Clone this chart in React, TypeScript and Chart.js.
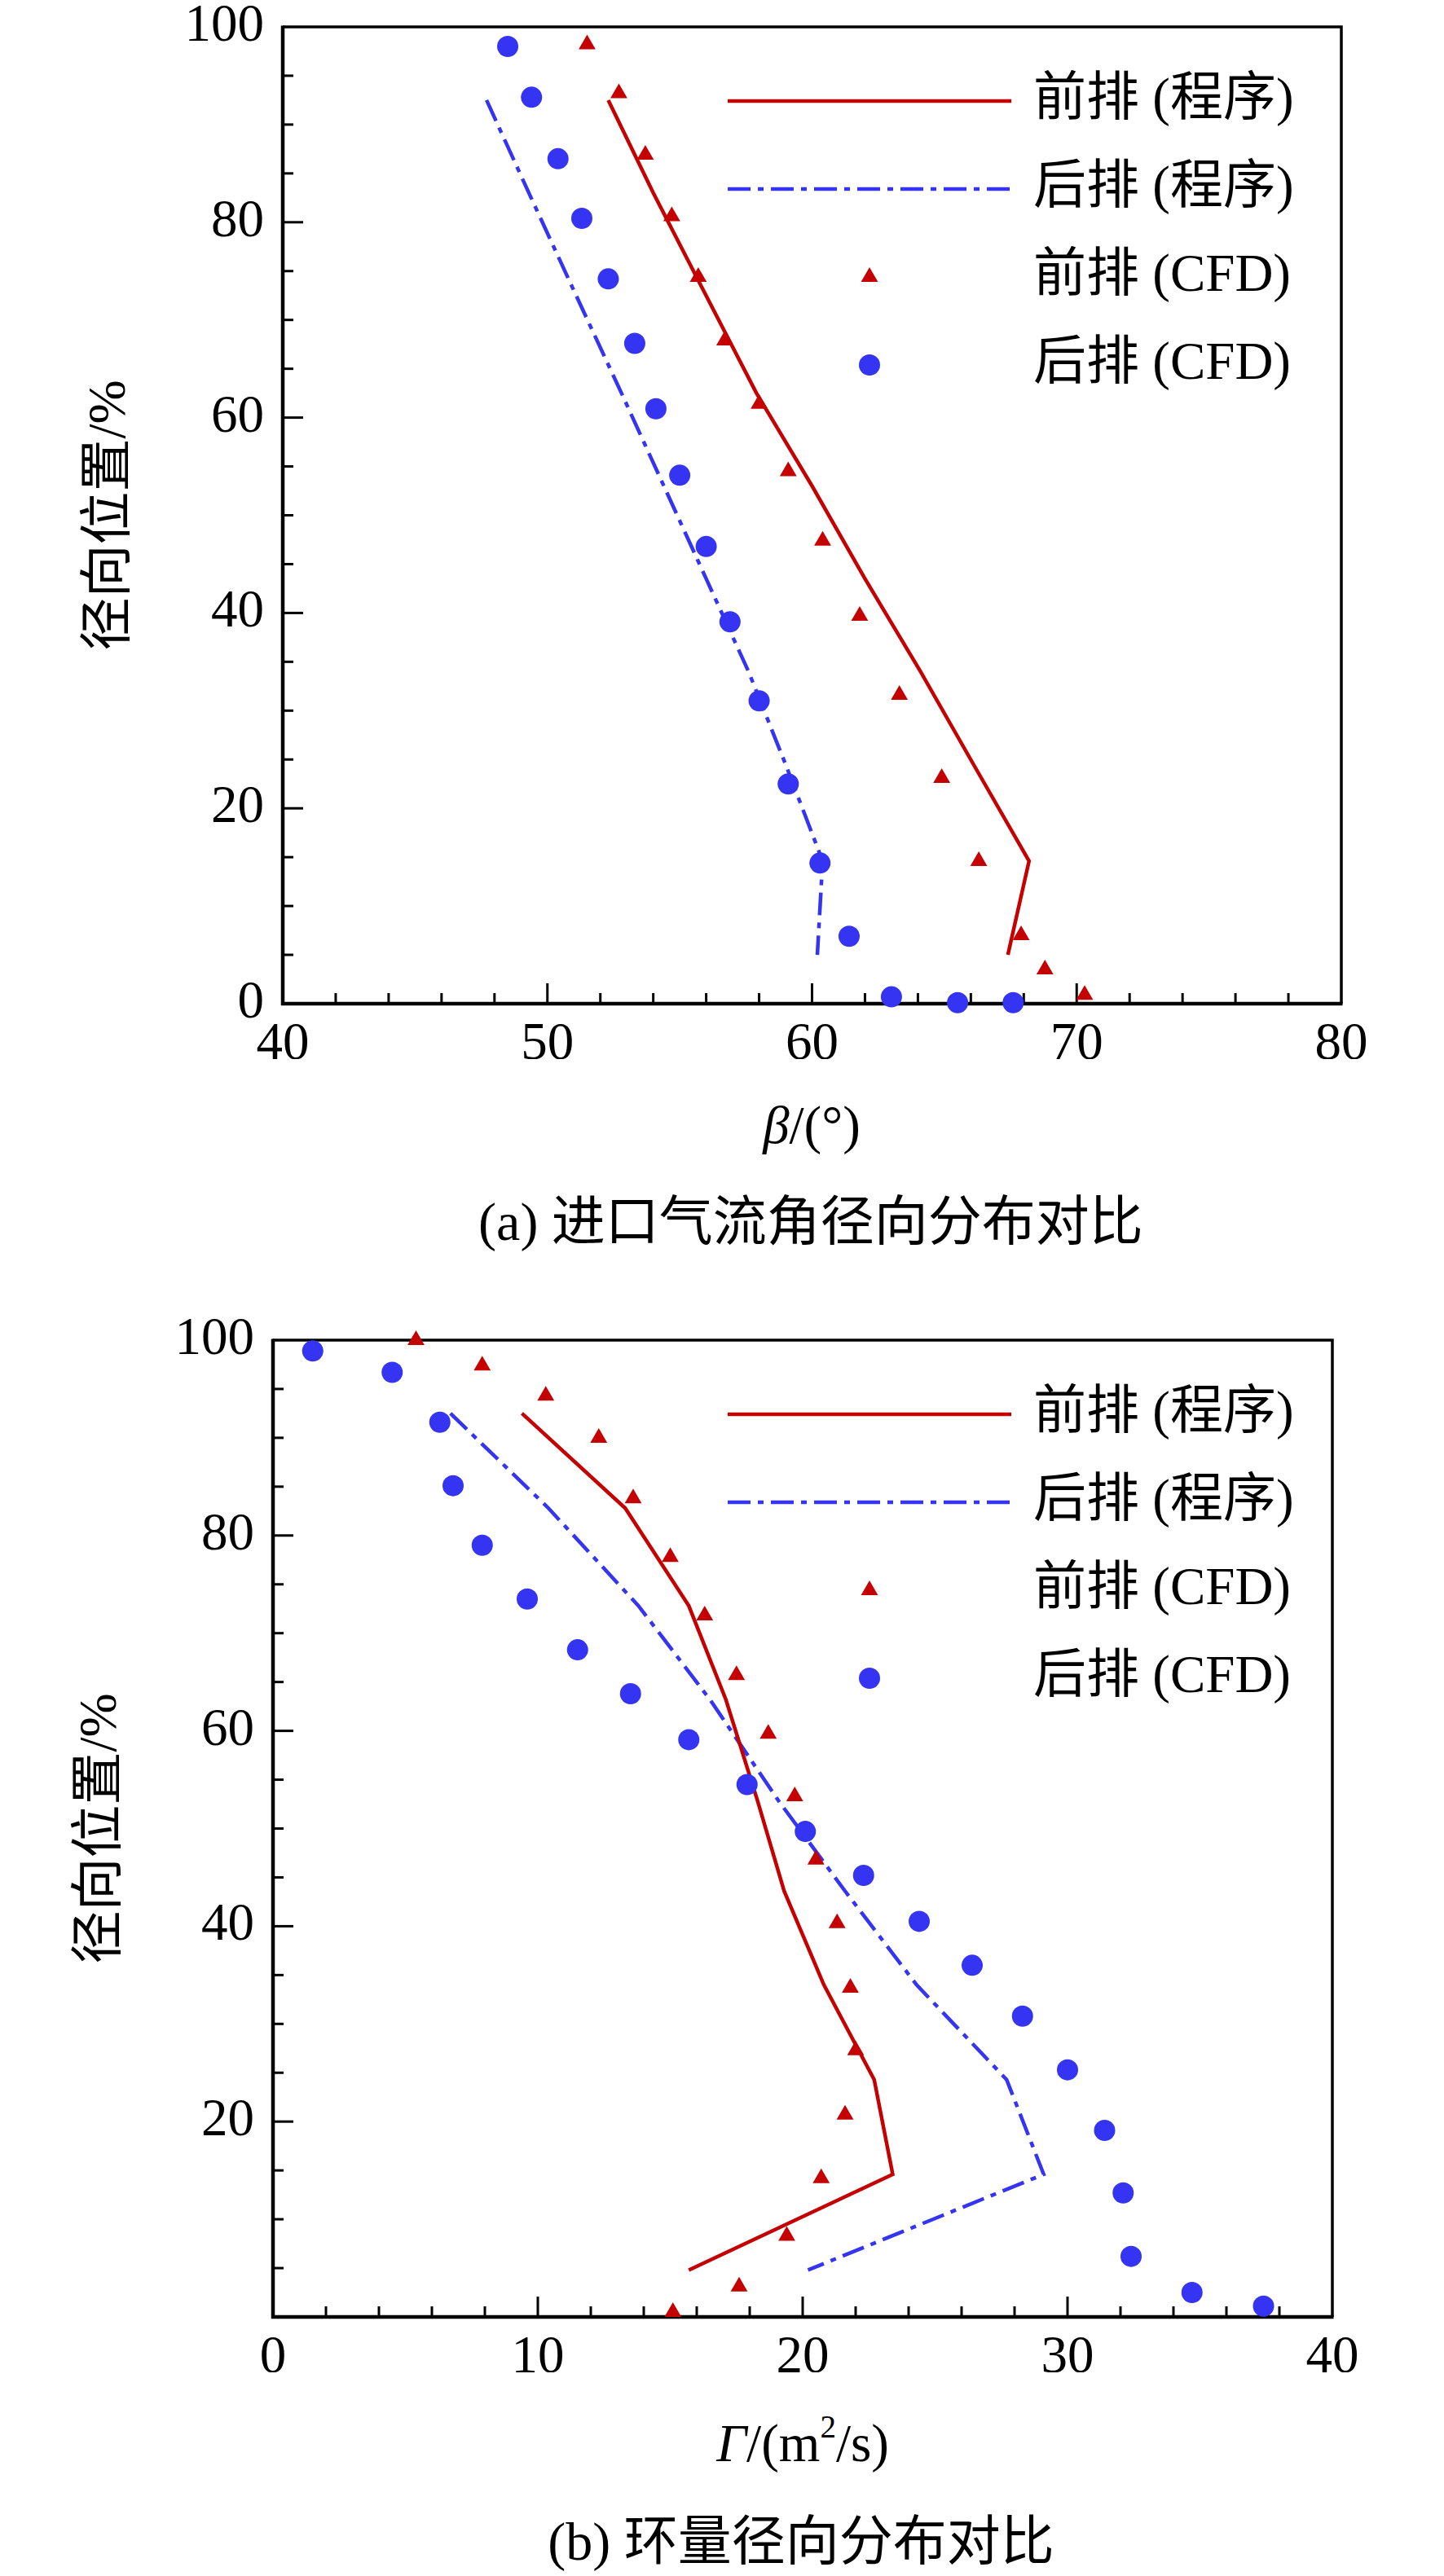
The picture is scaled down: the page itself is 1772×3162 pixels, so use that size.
import { useEffect, useRef } from 'react';
import Chart from 'chart.js/auto';

const RED = '#C40000';
const BLUE = '#3434F2';
const SERIF = '"Liberation Serif", "Times New Roman", serif, "Noto Sans CJK SC"';
const PAGE_W = 1772;
const PAGE_H = 3162;
const CANVAS_H = 1300;

// (a) inlet flow angle, x = beta (deg), y = radial position (%)
const progSpanA = [92.5, 83.0, 73.0, 62.5, 53.0, 43.5, 34.0, 24.5, 14.6, 5.0];
const frontProgA = [52.3, 54.0, 55.9, 57.9, 60.0, 62.0, 64.1, 66.1, 68.2, 67.4];
const rearProgA = [47.7, 49.3, 51.0, 52.8, 54.4, 56.0, 57.6, 59.0, 60.4, 60.2];
const frontCfdSpanA = [98.2, 93.2, 86.9, 80.6, 74.4, 67.9, 61.4, 54.5, 47.4, 39.7, 31.6, 23.1, 14.6, 7.0, 3.5, 0.9];
const frontCfdA = [51.5, 52.7, 53.7, 54.7, 55.7, 56.7, 58.0, 59.1, 60.4, 61.8, 63.3, 64.9, 66.3, 67.9, 68.8, 70.3];
const rearCfdSpanA = [98.0, 92.8, 86.5, 80.4, 74.2, 67.6, 60.9, 54.1, 46.8, 39.1, 31.0, 22.5, 14.4, 6.9, 0.7, 0.1, 0.1];
const rearCfdA = [48.5, 49.4, 50.4, 51.3, 52.3, 53.3, 54.1, 55.0, 56.0, 56.9, 58.0, 59.1, 60.3, 61.4, 63.0, 65.5, 67.6];

// (b) circulation, x = Gamma (m2/s), y = radial position (%)
const progSpanB = [92.5, 82.8, 72.8, 63.2, 52.8, 43.6, 34.0, 24.3, 14.6, 4.8];
const frontProgB = [9.4, 13.3, 15.7, 17.1, 18.3, 19.3, 20.8, 22.7, 23.4, 15.7];
const rearProgB = [6.7, 10.4, 13.8, 16.5, 19.1, 21.6, 24.3, 27.7, 29.1, 20.2];
const frontCfdSpanB = [100.0, 97.4, 94.3, 90.0, 83.8, 77.8, 71.8, 65.7, 59.7, 53.3, 46.8, 40.3, 33.7, 27.3, 20.7, 14.2, 8.3, 3.1, 0.5];
const frontCfdB = [5.4, 7.9, 10.3, 12.3, 13.6, 15.0, 16.3, 17.5, 18.7, 19.7, 20.5, 21.3, 21.8, 22.0, 21.6, 20.7, 19.4, 17.6, 15.1];
const rearCfdSpanB = [98.9, 96.7, 91.6, 85.1, 79.0, 73.5, 68.3, 63.8, 59.1, 54.5, 49.7, 45.2, 40.5, 36.0, 30.8, 25.3, 19.1, 12.7, 6.2, 2.5, 1.1];
const rearCfdB = [1.5, 4.5, 6.3, 6.8, 7.9, 9.6, 11.5, 13.5, 15.7, 17.9, 20.1, 22.3, 24.4, 26.4, 28.3, 30.0, 31.4, 32.1, 32.4, 34.7, 37.4];

const legendLabels = ['前排 (程序)', '后排 (程序)', '前排 (CFD)', '后排 (CFD)'];
const yTitle = '径向位置/%';

const DASH_DOT = [28, 9, 7, 9];
const LINE_W = 4.5;

const pairs = (xs: number[], ys: number[]) => xs.map((x, i) => ({ x, y: ys[i] }));

// inward ticks + box frame, drawn under the datasets
const framePlugin = {
  id: 'frameTicks',
  beforeDatasetsDraw(chart: any, _args: any, opts: any) {
    const { ctx, chartArea: area, scales } = chart;
    const xs = scales.x;
    const ys = scales.y;
    ctx.save();
    ctx.strokeStyle = '#000';
    ctx.lineWidth = 3;
    const nX = Math.round((xs.max - xs.min) / opts.xMinor);
    for (let i = 1; i < nX; i++) {
      const v = xs.min + i * opts.xMinor;
      const major = Math.abs(v / opts.xMajor - Math.round(v / opts.xMajor)) < 1e-6;
      const px = xs.getPixelForValue(v);
      ctx.beginPath();
      ctx.moveTo(px, area.bottom);
      ctx.lineTo(px, area.bottom - (major ? 25 : 13));
      ctx.stroke();
    }
    const nY = Math.round((ys.max - ys.min) / opts.yMinor);
    for (let i = 1; i < nY; i++) {
      const v = ys.min + i * opts.yMinor;
      const major = Math.abs(v / opts.yMajor - Math.round(v / opts.yMajor)) < 1e-6;
      const py = ys.getPixelForValue(v);
      ctx.beginPath();
      ctx.moveTo(area.left, py);
      ctx.lineTo(area.left + (major ? 25 : 13), py);
      ctx.stroke();
    }
    ctx.lineWidth = 3.5;
    ctx.beginPath();
    ctx.moveTo(area.left, area.top);
    ctx.lineTo(area.right, area.top);
    ctx.lineTo(area.right, area.bottom);
    ctx.stroke();
    ctx.lineWidth = 4.5;
    ctx.beginPath();
    ctx.moveTo(area.left, area.top - 1.5);
    ctx.lineTo(area.left, area.bottom);
    ctx.lineTo(area.right + 1.5, area.bottom);
    ctx.stroke();
    ctx.restore();
  },
};

// legend inside the plot, top right
const legendPlugin = {
  id: 'insetLegend',
  afterDraw(chart: any, _args: any, opts: any) {
    const { ctx, chartArea: area } = chart;
    ctx.save();
    ctx.font = `${opts.fontSize}px ${SERIF}`;
    ctx.textBaseline = 'middle';
    opts.items.forEach((item: any, i: number) => {
      const y = area.top + opts.firstRow + i * opts.rowGap;
      if (item.kind === 'line') {
        ctx.strokeStyle = item.color;
        ctx.lineWidth = LINE_W;
        ctx.setLineDash(item.dash || []);
        ctx.beginPath();
        ctx.moveTo(opts.lineStart, y);
        ctx.lineTo(opts.lineEnd, y);
        ctx.stroke();
        ctx.setLineDash([]);
      } else if (item.kind === 'triangle') {
        const r = item.radius;
        ctx.fillStyle = item.color;
        ctx.beginPath();
        ctx.moveTo(opts.markerX, y - r);
        ctx.lineTo(opts.markerX + r * 0.866, y + r * 0.5);
        ctx.lineTo(opts.markerX - r * 0.866, y + r * 0.5);
        ctx.closePath();
        ctx.fill();
      } else {
        ctx.fillStyle = item.color;
        ctx.beginPath();
        ctx.arc(opts.markerX, y, item.radius, 0, Math.PI * 2);
        ctx.fill();
      }
      ctx.fillStyle = '#000';
      ctx.fillText(item.label, opts.textX, y);
    });
    ctx.restore();
  },
};

interface PanelProps {
  top: number;
  plotLeft: number;
  plotRight: number;
  xMin: number;
  xMax: number;
  yTitleCenter: number;
  showYZero: boolean;
  progSpan: number[];
  frontProg: number[];
  rearProg: number[];
  frontCfdSpan: number[];
  frontCfd: number[];
  rearCfdSpan: number[];
  rearCfd: number[];
}

const ProfilePanel = (p: PanelProps) => {
  const canvasRef = useRef<HTMLCanvasElement>(null);

  useEffect(() => {
    const canvas = canvasRef.current;
    if (!canvas) return;
    const tickFont = { family: SERIF, size: 65 };
    const chart = new Chart(canvas, {
      type: 'scatter',
      data: {
        datasets: [
          {
            label: legendLabels[2],
            data: pairs(p.frontCfd, p.frontCfdSpan),
            showLine: false,
            pointStyle: 'triangle',
            pointRadius: 12,
            pointBackgroundColor: RED,
            pointBorderWidth: 0,
            clip: false,
          },
          {
            label: legendLabels[3],
            data: pairs(p.rearCfd, p.rearCfdSpan),
            showLine: false,
            pointStyle: 'circle',
            pointRadius: 13,
            pointBackgroundColor: BLUE,
            pointBorderWidth: 0,
            clip: false,
          },
          {
            label: legendLabels[0],
            data: pairs(p.frontProg, p.progSpan),
            showLine: true,
            pointRadius: 0,
            borderColor: RED,
            borderWidth: LINE_W,
            tension: 0,
          },
          {
            label: legendLabels[1],
            data: pairs(p.rearProg, p.progSpan),
            showLine: true,
            pointRadius: 0,
            borderColor: BLUE,
            borderWidth: LINE_W,
            borderDash: DASH_DOT,
            tension: 0,
          },
        ] as any,
      },
      options: {
        animation: false,
        responsive: false,
        events: [],
        layout: { padding: { left: 0, top: 33, right: PAGE_W - p.plotRight, bottom: 0 } },
        scales: {
          x: {
            type: 'linear',
            min: p.xMin,
            max: p.xMax,
            grid: { display: false, drawTicks: false },
            border: { display: false },
            ticks: { stepSize: 10, font: tickFont, color: '#000', padding: 12, maxRotation: 0, autoSkip: false },
            afterFit: (scale: any) => {
              scale.height = CANVAS_H - 1232;
              scale.paddingLeft = 0;
              scale.paddingRight = 0;
            },
          },
          y: {
            type: 'linear',
            min: 0,
            max: 100,
            grid: { display: false, drawTicks: false },
            border: { display: false },
            ticks: {
              stepSize: 20,
              font: tickFont,
              color: '#000',
              padding: 23,
              autoSkip: false,
              callback: (v: any) => (v === 0 && !p.showYZero ? '' : String(v)),
            },
            title: {
              display: true,
              text: yTitle,
              color: '#000',
              font: { family: SERIF, size: 65 },
              padding: { top: p.yTitleCenter - 39, bottom: 0 },
            },
            afterFit: (scale: any) => {
              scale.width = p.plotLeft;
              scale.paddingTop = 0;
              scale.paddingBottom = 0;
            },
          },
        },
        plugins: {
          legend: { display: false },
          tooltip: { enabled: false },
          frameTicks: { xMinor: 2, xMajor: 10, yMinor: 5, yMajor: 20 },
          insetLegend: {
            fontSize: 65,
            firstRow: 91,
            rowGap: 108,
            lineStart: 893,
            lineEnd: 1241,
            markerX: 1067,
            textX: 1268,
            items: [
              { kind: 'line', color: RED, label: legendLabels[0] },
              { kind: 'line', color: BLUE, dash: DASH_DOT, label: legendLabels[1] },
              { kind: 'triangle', color: RED, radius: 12, label: legendLabels[2] },
              { kind: 'circle', color: BLUE, radius: 13, label: legendLabels[3] },
            ],
          },
        } as any,
      },
      plugins: [framePlugin, legendPlugin],
    });

    return () => {
      chart.destroy();
    };
  }, [p]);

  return (
    <canvas
      ref={canvasRef}
      width={PAGE_W}
      height={CANVAS_H}
      style={{ position: 'absolute', left: 0, top: p.top, width: PAGE_W, height: CANVAS_H }}
    />
  );
};

const textStyle = (centerX: number, top: number, size: number): any => ({
  position: 'absolute',
  left: centerX,
  top,
  transform: 'translateX(-50%)',
  fontFamily: SERIF,
  fontSize: size,
  lineHeight: `${size}px`,
  whiteSpace: 'nowrap',
  color: '#000',
});

const panelA: PanelProps = {
  top: 0,
  plotLeft: 347,
  plotRight: 1646,
  xMin: 40,
  xMax: 80,
  yTitleCenter: 136,
  showYZero: true,
  progSpan: progSpanA,
  frontProg: frontProgA,
  rearProg: rearProgA,
  frontCfdSpan: frontCfdSpanA,
  frontCfd: frontCfdA,
  rearCfdSpan: rearCfdSpanA,
  rearCfd: rearCfdA,
};

const panelB: PanelProps = {
  top: 1612,
  plotLeft: 335,
  plotRight: 1635,
  xMin: 0,
  xMax: 40,
  yTitleCenter: 125,
  showYZero: false,
  progSpan: progSpanB,
  frontProg: frontProgB,
  rearProg: rearProgB,
  frontCfdSpan: frontCfdSpanB,
  frontCfd: frontCfdB,
  rearCfdSpan: rearCfdSpanB,
  rearCfd: rearCfdB,
};

export default function App() {
  return (
    <div
      style={{
        position: 'absolute',
        left: 0,
        top: 0,
        width: PAGE_W,
        height: PAGE_H,
        background: '#fff',
        overflow: 'hidden',
      }}
    >
      <ProfilePanel {...panelA} />
      <div style={textStyle(996, 1349, 65)}>
        <i>β</i>/(°)
      </div>
      <div style={textStyle(995, 1467, 66)}>(a) 进口气流角径向分布对比</div>

      <ProfilePanel {...panelB} />
      <div style={textStyle(985, 2967, 65)}>
        <i>Γ</i>/(m
        <span style={{ fontSize: '0.6em', position: 'relative', top: '-0.75em' }}>2</span>
        /s)
      </div>
      <div style={textStyle(983, 3087, 66)}>(b) 环量径向分布对比</div>
    </div>
  );
}
